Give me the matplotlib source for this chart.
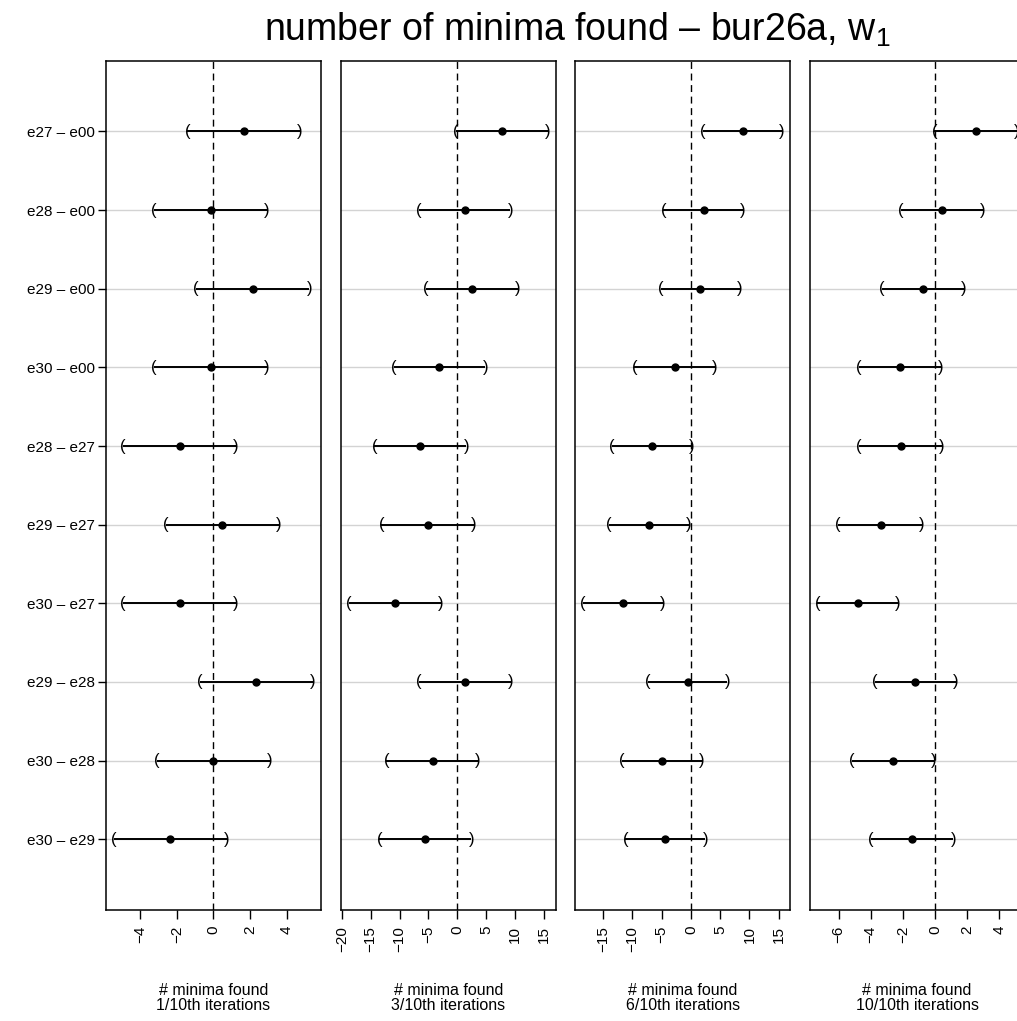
import matplotlib
matplotlib.use("Agg")
import matplotlib.pyplot as plt
import numpy as np

plt.rcParams['font.family'] = ['Liberation Sans', 'DejaVu Sans']
plt.rcParams['mathtext.fontset'] = 'custom'
plt.rcParams['mathtext.rm'] = 'Liberation Sans'

comparisons = ["e27 – e00", "e28 – e00", "e29 – e00", "e30 – e00", "e28 – e27",
               "e29 – e27", "e30 – e27", "e29 – e28", "e30 – e28", "e30 – e29"]

p1_est = [1.67, -0.16, 2.17, -0.16, -1.85, 0.49, -1.85, 2.33, 0.00, -2.35]
p1_lo = [-1.42, -3.27, -0.94, -3.27, -4.94, -2.60, -4.94, -0.76, -3.09, -5.45]
p1_hi = [4.73, 2.91, 5.24, 2.91, 1.24, 3.58, 1.24, 5.42, 3.09, 0.73]

p2_est = [7.72, 1.26, 2.53, -3.11, -6.40, -5.14, -10.73, 1.38, -4.27, -5.54]
p2_lo = [-0.24, -6.70, -5.43, -11.00, -14.36, -13.15, -18.80, -6.70, -12.28, -13.50]
p2_hi = [15.67, 9.17, 10.43, 4.84, 1.56, 2.82, -2.84, 9.27, 3.56, 2.42]

p3_est = [8.88, 2.22, 1.64, -2.73, -6.61, -7.18, -11.57, -0.51, -4.90, -4.34]
p3_lo = [2.05, -4.68, -5.19, -9.64, -13.45, -14.01, -18.40, -7.30, -11.74, -11.17]
p3_hi = [15.60, 8.94, 8.37, 4.10, 0.10, -0.34, -4.78, 6.25, 1.93, 2.49]

p4_est = [2.56, 0.42, -0.77, -2.19, -2.15, -3.38, -4.81, -1.25, -2.63, -1.44]
p4_lo = [-0.04, -2.13, -3.33, -4.75, -4.73, -6.06, -7.31, -3.75, -5.19, -4.00]
p4_hi = [5.06, 2.98, 1.77, 0.35, 0.42, -0.81, -2.31, 1.31, -0.06, 1.13]

p1_ticks = [-4, -2, 0, 2, 4]
p2_ticks = [-20, -15, -10, -5, 0, 5, 10, 15]
p3_ticks = [-15, -10, -5, 0, 5, 10, 15]
p4_ticks = [-6, -4, -2, 0, 2, 4]

xlabels = ["# minima found\n1/10th iterations", "# minima found\n3/10th iterations",
           "# minima found\n6/10th iterations", "# minima found\n10/10th iterations"]

title = r"number of minima found – bur26a, $\mathregular{w_1}$"

panels = [(p1_est, p1_lo, p1_hi, p1_ticks),
          (p2_est, p2_lo, p2_hi, p2_ticks),
          (p3_est, p3_lo, p3_hi, p3_ticks),
          (p4_est, p4_lo, p4_hi, p4_ticks)]

W, H = 1017, 1021
fig = plt.figure(figsize=(W / 100, H / 100), dpi=100)

left_px = [105.7, 340.8, 575.2, 809.5]
width_px = 215.0
top_px, bot_px = 60.7, 910.0

n = len(comparisons)
ypos = np.arange(n, 0, -1)

for k, (est, lo, hi, ticks) in enumerate(panels):
    ax = fig.add_axes([left_px[k] / W, 1 - bot_px / H, width_px / W, (bot_px - top_px) / H])
    lo_a = np.array(lo); hi_a = np.array(hi); est_a = np.array(est)
    dmin, dmax = lo_a.min(), hi_a.max()
    r = dmax - dmin
    ax.set_xlim(dmin - 0.04 * r, dmax + 0.04 * r)
    ax.set_ylim(0.1, n + 0.9)
    for y in ypos:
        ax.axhline(y, color='#d3d3d3', lw=1.0, zorder=1)
    ax.axvline(0, color='black', lw=1.0, ls=(0, (5, 3.3)), zorder=2)
    ax.hlines(ypos, lo_a, hi_a, color='black', lw=1.4, zorder=3)
    ax.plot(est_a, ypos, 'o', color='black', ms=5, zorder=4)
    for y, a, b in zip(ypos, lo_a, hi_a):
        ax.text(a, y, "(", ha='center', va='center', fontsize=12, zorder=4)
        ax.text(b, y, ")", ha='center', va='center', fontsize=12, zorder=4)
    ax.set_xticks(ticks)
    ax.set_xticklabels([f"{t}".replace("-", "\u2212") for t in ticks], rotation=90, fontsize=11)
    ax.tick_params(axis='x', length=6.5, width=1.0, pad=5)
    if k == 0:
        ax.set_yticks(ypos)
        ax.set_yticklabels(comparisons, fontsize=11)
        ax.tick_params(axis='y', length=6.0, width=1.0, pad=1.5)
    else:
        ax.set_yticks([])
    for s in ax.spines.values():
        s.set_linewidth(1.1)
    cx = (left_px[k] + width_px / 2) / W
    fig.text(cx, 1 - 998 / H, xlabels[k], ha='center', va='center', fontsize=11.5, linespacing=1.05)

fig.text(577.5 / W, 1 - 30 / H, title, ha='center', va='center', fontsize=27)

fig.savefig("out.png", dpi=100)
